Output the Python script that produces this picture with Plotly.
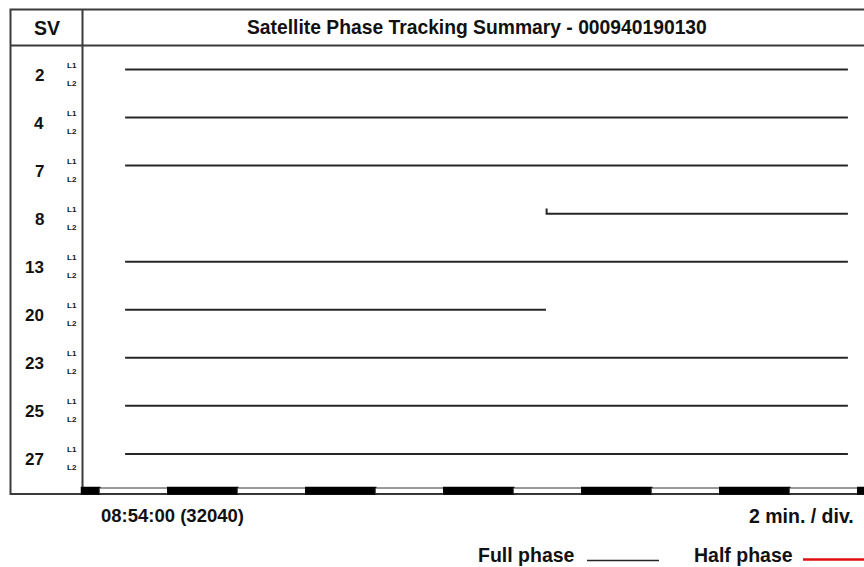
import plotly.graph_objects as go

# ---- tracking data (seconds of day) ----
SV_IDS = [2, 4, 7, 8, 13, 20, 23, 25, 27]
ARC_START = [32115, 32115, 32115, 32848, 32115, 32115, 32115, 32115, 32115]
ARC_END = [33372, 33372, 33372, 33372, 33372, 32847, 33372, 33372, 33372]
RISING = [False, False, False, True, False, False, False, False, False]

START_SOD = 32040          # 08:54:00
DIV_SECONDS = 120          # 2 min. / div.
FIRST_DIV = 32070
TITLE = "Satellite Phase Tracking Summary - 000940190130"
FREQ_LABELS = ["L1", "L2"]

W, H = 864, 567
FONT = "Liberation Sans"
INK = "#262626"

# page geometry (pixels)
BOX_L, BOX_T, BOX_B, BOX_R = 10.5, 9.5, 494, 870
HEAD_B = 45.5
COL_X = 82.5
ROW0_Y, ROW_H = 69.5, 48.05
PX_PER_S = 69.0 / DIV_SECONDS


def px(x):
    return x / W


def py(y):
    return 1 - y / H


# axis ranges so that data coordinates land on the page grid
x_lo = START_SOD - (COL_X - 0.5) / PX_PER_S
x_hi = START_SOD + (W - COL_X + 0.5) / PX_PER_S
y_top = -ROW0_Y / ROW_H
y_bot = (H - ROW0_Y) / ROW_H

fig = go.Figure()

# full-phase arcs
for i, (s, e, r) in enumerate(zip(ARC_START, ARC_END, RISING)):
    xs, ys = [s, e], [i, i]
    if r:
        xs = [s] + xs
        ys = [i - 0.105] + ys
    fig.add_trace(go.Scatter(x=xs, y=ys, mode="lines",
                             line=dict(color=INK, width=2),
                             hoverinfo="skip", showlegend=False))

shapes = []
# outer frame, header rule and label column
shapes.append(dict(type="rect", xref="paper", yref="paper",
                   x0=px(BOX_L), x1=px(BOX_R), y0=py(BOX_B), y1=py(BOX_T),
                   line=dict(color="#3a3a3a", width=2)))
shapes.append(dict(type="line", xref="paper", yref="paper",
                   x0=px(BOX_L), x1=px(BOX_R), y0=py(HEAD_B), y1=py(HEAD_B),
                   line=dict(color="#3a3a3a", width=2)))
shapes.append(dict(type="line", xref="paper", yref="paper",
                   x0=px(COL_X), x1=px(COL_X), y0=py(BOX_T), y1=py(BOX_B),
                   line=dict(color="#3a3a3a", width=2)))

# time scale bar: alternating divisions
bar_t, bar_b = 488, 493.5
edges = [START_SOD]
t = FIRST_DIV
while t < x_hi + DIV_SECONDS:
    edges.append(t)
    t += DIV_SECONDS
for k in range(len(edges) - 1):
    black = (k % 2 == 0)
    shapes.append(dict(type="rect", xref="x", yref="paper",
                       x0=edges[k], x1=edges[k + 1], y0=py(bar_b), y1=py(bar_t),
                       fillcolor="black" if black else "white",
                       line=dict(color="black" if black else "#333", width=2.5 if black else 1)))

# legend samples
shapes.append(dict(type="line", xref="paper", yref="paper",
                   x0=px(587), x1=px(659), y0=py(560.5), y1=py(560.5),
                   line=dict(color=INK, width=1.5)))
shapes.append(dict(type="line", xref="paper", yref="paper",
                   x0=px(803), x1=px(870), y0=py(559.5), y1=py(559.5),
                   line=dict(color="#e01010", width=2.5)))

ann = []


def text(x, y, s, size, anchor="center", yref="paper", weight="bold"):
    ann.append(dict(x=x, y=y, xref="paper", yref=yref, text=s, showarrow=False,
                    xanchor=anchor, yanchor="middle",
                    font=dict(family=FONT, size=size, color="#111", weight=weight)))


text(px(46.5), py(27.5), "SV", 19.5)
text(px(476.5), py(27.5), TITLE, 19.3)

for i, sv in enumerate(SV_IDS):
    text(px(46), i + 5.5 / ROW_H, str(sv), 17, anchor="right", yref="y")
    text(px(64.5), i - 4.5 / ROW_H, FREQ_LABELS[0], 8, anchor="left", yref="y")
    text(px(64.5), i + 13.5 / ROW_H, FREQ_LABELS[1], 8, anchor="left", yref="y")

hh, rem = divmod(START_SOD, 3600)
mm, ss = divmod(rem, 60)
text(px(99), py(515.5), f"{hh:02d}:{mm:02d}:{ss:02d} ({START_SOD})", 18.5, anchor="left")
text(px(856), py(515.5), f"{DIV_SECONDS // 60} min. / div.", 19.5, anchor="right")
text(px(476), py(555), "Full phase", 19.5, anchor="left")
text(px(692), py(555), "Half phase", 19.5, anchor="left")

fig.update_layout(
    width=W, height=H,
    margin=dict(l=0, r=0, t=0, b=0),
    paper_bgcolor="white", plot_bgcolor="white",
    xaxis=dict(range=[x_lo, x_hi], visible=False, fixedrange=True),
    yaxis=dict(range=[y_bot, y_top], visible=False, fixedrange=True),
    shapes=shapes, annotations=ann, showlegend=False,
)

fig.write_html("out.html")
